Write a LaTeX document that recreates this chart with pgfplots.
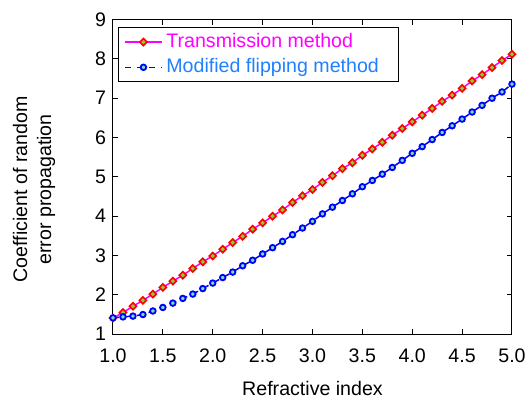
\documentclass[border=0pt]{standalone}
\usepackage{fontspec}
\setmainfont{Liberation Sans}
\usepackage{pgfplots}
\pgfplotsset{compat=1.18}
\definecolor{mag}{HTML}{FF00FF}
\definecolor{rd}{HTML}{FF0000}
\definecolor{bl}{HTML}{0000FF}
\definecolor{txtbl}{HTML}{2080FF}
\definecolor{dgreen}{HTML}{8CCB3C}
\definecolor{cgreen}{HTML}{6EE6A8}

\begin{document}
\begin{tikzpicture}[font=\fontsize{9.8}{12}\selectfont]
\useasboundingbox (-56.5pt,-33pt) rectangle (206.5pt,167.1pt);
\begin{axis}[scale only axis,width=199.5pt,height=157.3pt,
  xmin=1,xmax=5,ymin=1,ymax=9,
  xtick={1,1.5,...,5},ytick={1,2,...,9},
  /pgf/number format/assume math mode=true,
  xticklabel style={yshift=-4pt,/pgf/number format/.cd,fixed,fixed zerofill,precision=1},
  tick label style={font=\fontsize{9.8}{12}\selectfont},
  major tick length=2.5pt,tick style={black,line width=0.5pt},
  axis line style={line width=0.5pt},
  xlabel={Refractive index},
  xlabel style={yshift=-2pt},
  ylabel={Coefficient of random\\error propagation},
  ylabel style={align=center,at={(ticklabel cs:0.46,13pt)}},
  legend cell align=left,
  legend style={at={(rel axis cs:0.0125,0.9765)},anchor=north west,
    font=\fontsize{9.8}{13.4}\selectfont,draw=black,line width=0.5pt,inner ysep=1pt,inner xsep=3pt},
  legend image code/.code={\draw[mark repeat=2,mark phase=2,#1] plot coordinates {(0cm,0cm) (0.32cm,0cm) (0.64cm,0cm)};}]
\addplot[mag,line width=0.75pt,mark=square*,mark size=1.25pt,
  mark options={draw=rd,fill=dgreen,line width=0.8pt,solid,rotate=45}] coordinates {
(1.0,1.41)(1.1,1.55)(1.2,1.71)(1.3,1.86)(1.4,2.02)(1.5,2.19)(1.6,2.35)(1.7,2.50)(1.8,2.67)(1.9,2.84)
(2.0,2.99)(2.1,3.16)(2.2,3.33)(2.3,3.49)(2.4,3.67)(2.5,3.83)(2.6,4.00)(2.7,4.16)(2.8,4.35)(2.9,4.52)
(3.0,4.68)(3.1,4.86)(3.2,5.03)(3.3,5.21)(3.4,5.36)(3.5,5.55)(3.6,5.71)(3.7,5.88)(3.8,6.06)(3.9,6.23)
(4.0,6.40)(4.1,6.57)(4.2,6.74)(4.3,6.92)(4.4,7.08)(4.5,7.25)(4.6,7.44)(4.7,7.60)(4.8,7.78)(4.9,7.96)
(5.0,8.12)};
\addlegendentry{\textcolor{mag}{Transmission method}}
\addplot[bl,line width=0.75pt,dashed,mark=*,mark size=1.4pt,
  mark options={draw=bl,fill=cgreen,line width=0.9pt,solid}] coordinates {
(1.0,1.415)(1.1,1.44)(1.2,1.46)(1.3,1.50)(1.4,1.59)(1.5,1.68)(1.6,1.79)(1.7,1.91)(1.8,2.02)(1.9,2.16)
(2.0,2.30)(2.1,2.44)(2.2,2.58)(2.3,2.74)(2.4,2.88)(2.5,3.04)(2.6,3.20)(2.7,3.36)(2.8,3.53)(2.9,3.70)
(3.0,3.87)(3.1,4.06)(3.2,4.23)(3.3,4.40)(3.4,4.57)(3.5,4.75)(3.6,4.91)(3.7,5.07)(3.8,5.24)(3.9,5.42)
(4.0,5.60)(4.1,5.77)(4.2,5.95)(4.3,6.13)(4.4,6.30)(4.5,6.47)(4.6,6.65)(4.7,6.82)(4.8,7.00)(4.9,7.16)
(5.0,7.36)};
\addlegendentry{\textcolor{txtbl}{Modified flipping method}\kern5pt\mbox{}}
\end{axis}
\end{tikzpicture}
\end{document}
